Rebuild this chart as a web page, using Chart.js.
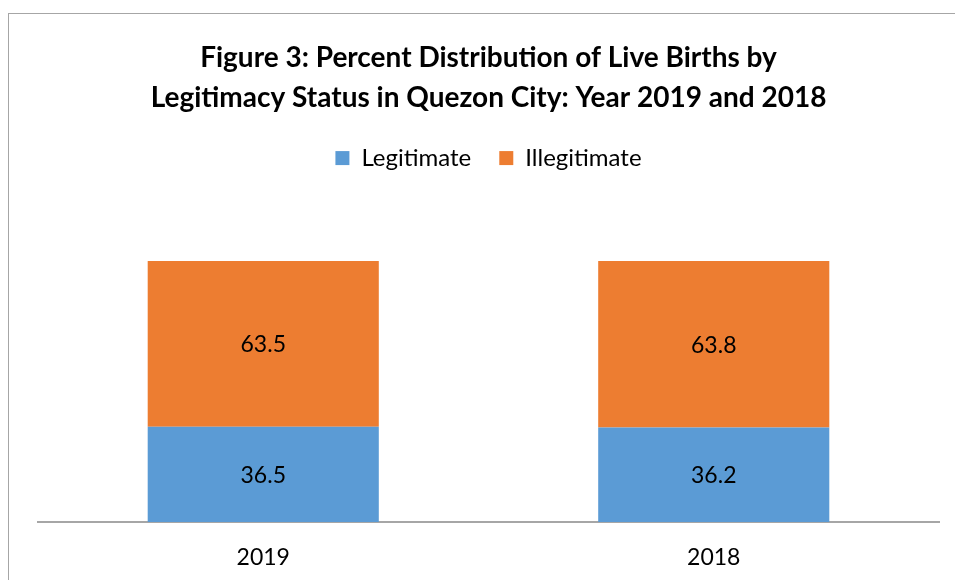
<!DOCTYPE html>
<html>
<head>
<meta charset="utf-8">
<script src="https://cdn.jsdelivr.net/npm/chart.js@4/dist/chart.umd.min.js"></script>
<style>
  html, body { margin: 0; padding: 0; background: #fff; }
  #wrap { position: relative; width: 955px; height: 580px; overflow: hidden; }
  #frame { position: absolute; left: 8px; top: 13px; width: 1000px; height: 700px; border: 1px solid #a6a6a6; box-sizing: border-box; pointer-events: none; }
  #c { position: absolute; left: 0; top: 0; }
</style>
</head>
<body>
<div id="wrap">
  <div id="frame"></div>
  <canvas id="c" width="955" height="580"></canvas>
</div>
<script>
const titleLines = ['Figure 3: Percent Distribution of Live Births by', 'Legitimacy Status in Quezon City: Year 2019 and 2018'];
const categories = ['2019', '2018'];
const seriesNames = ['Legitimate', 'Illegitimate'];
const legitimate = [36.5, 36.2];
const illegitimate = [63.5, 63.8];
const seriesColors = ['#5B9BD5', '#ED7D31'];

const FONT = 'Lato, Calibri, Carlito, "Open Sans", sans-serif';

const dataLabels = {
  id: 'dataLabels',
  afterDatasetsDraw(chart) {
    const ctx = chart.ctx;
    ctx.save();
    ctx.font = '23px ' + FONT;
    ctx.fillStyle = '#000';
    ctx.textAlign = 'center';
    ctx.textBaseline = 'middle';
    chart.data.datasets.forEach((ds, i) => {
      const meta = chart.getDatasetMeta(i);
      meta.data.forEach((el, j) => {
        const p = el.getProps(['x', 'y', 'base'], true);
        ctx.fillText(ds.data[j].toFixed(1), p.x, (p.y + p.base) / 2 + 1);
      });
    });
    ctx.restore();
  }
};

new Chart(document.getElementById('c'), {
  type: 'bar',
  data: {
    labels: categories,
    datasets: [
      { label: seriesNames[0], data: legitimate, backgroundColor: seriesColors[0], borderWidth: 0 },
      { label: seriesNames[1], data: illegitimate, backgroundColor: seriesColors[1], borderWidth: 0 }
    ]
  },
  options: {
    responsive: false,
    animation: false,
    devicePixelRatio: 1,
    layout: { padding: { left: 38, right: 16, top: 0, bottom: 0 } },
    datasets: { bar: { barPercentage: 1, categoryPercentage: 0.513 } },
    scales: {
      x: {
        stacked: true,
        grid: { display: false, drawTicks: false },
        border: { display: true, color: '#a6a6a6', width: 2 },
        ticks: { color: '#000', font: { family: FONT, size: 23 }, padding: 22 },
        afterFit(scale) { scale.height = 58; }
      },
      y: {
        stacked: true,
        display: false,
        min: 0,
        max: 131
      }
    },
    plugins: {
      title: {
        display: true,
        text: titleLines,
        color: '#000',
        font: { family: FONT, size: 28, weight: 'bold', lineHeight: 1.43 },
        padding: { top: 38, bottom: 0 }
      },
      legend: {
        display: true,
        position: 'top',
        labels: {
          color: '#000',
          font: { family: FONT, size: 24 },
          boxWidth: 14,
          boxHeight: 14,
          padding: 28
        }
      },
      tooltip: { enabled: false }
    }
  },
  plugins: [dataLabels]
});
</script>
</body>
</html>
